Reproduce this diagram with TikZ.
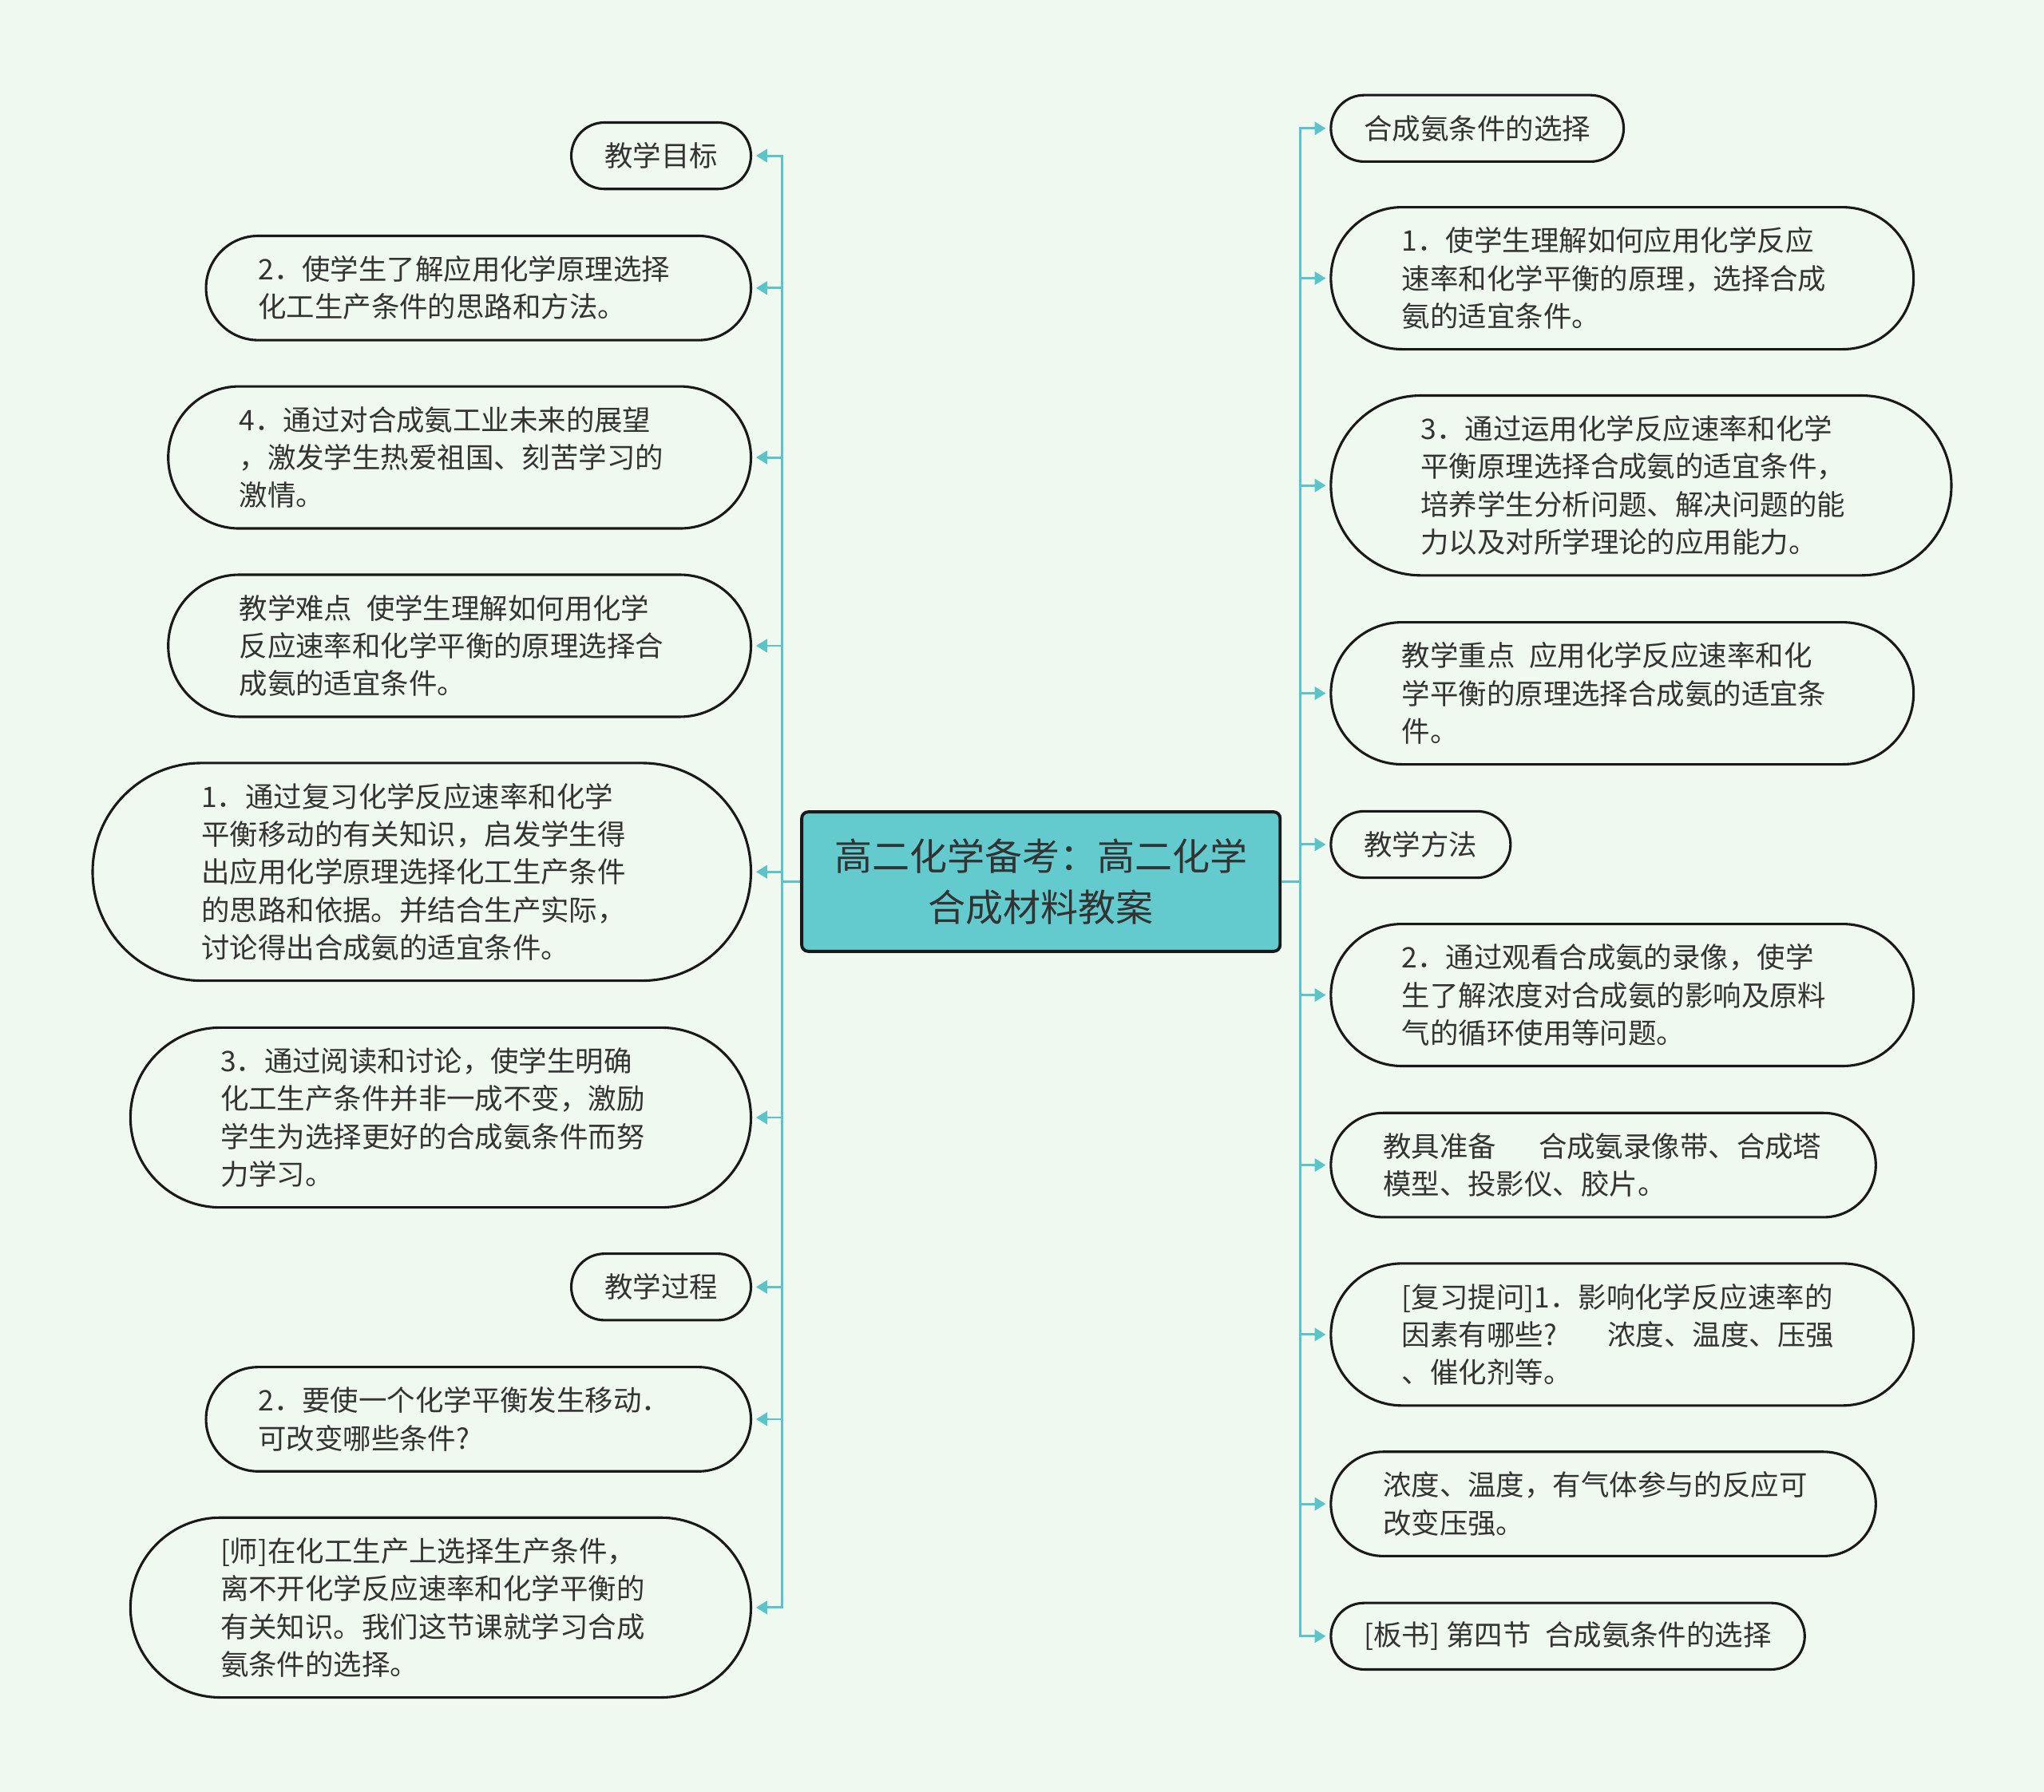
\documentclass[tikz,border=0pt]{standalone}
\usepackage{fontspec}
\setmainfont{Noto Sans CJK SC}
\usetikzlibrary{arrows.meta}

\definecolor{bgc}{HTML}{F0F9EF}
\definecolor{linkc}{HTML}{5BC4C9}
\definecolor{rootc}{HTML}{63CACD}
\definecolor{txtc}{HTML}{333333}

\begin{document}
\begin{tikzpicture}[x=1pt, y=-1pt]
    \tikzset{
        root/.style = {rectangle, rounded corners=5pt, draw=black!90, line width=2.4pt, fill=rootc, text=txtc, minimum width=367pt, minimum height=107pt, align=center, font=\fontsize{28.8}{39}\selectfont},
        leaf/.style = {rectangle, rounded corners=14.5pt*#1+11pt, draw=black!90, line width=1.9pt, fill=bgc, text=txtc, inner xsep=14.5pt*#1+11pt, inner ysep=0pt, minimum height=29pt*#1+22pt, align=left, font=\fontsize{21.7}{29}\selectfont},
        longleaf/.style = {leaf=#1, text width=338pt},
        link/.style = {draw=linkc, line width=1.8pt, -{Triangle[length=8.5pt, width=10pt]}, shorten >=3pt}
    }
    \fill[bgc] (0,0) rectangle (1568,1375);
    \useasboundingbox (0,0) rectangle (1568,1375);

    \node[root] (root) at (798.5,676.5) {高二化学备考：高二化学\\合成材料教案};

    % left branch
    \node[leaf=1, anchor=east] (l1) at (577,119.5) {教学目标};
    \node[longleaf=2, anchor=east] (l2) at (577,221) {2．使学生了解应用化学原理选择\\化工生产条件的思路和方法。};
    \node[longleaf=3, anchor=east] (l3) at (577,351) {4．通过对合成氨工业未来的展望\\，激发学生热爱祖国、刻苦学习的\\激情。};
    \node[longleaf=3, anchor=east] (l4) at (577,495.5) {教学难点\hspace{0.5em}使学生理解如何用化学\\反应速率和化学平衡的原理选择合\\成氨的适宜条件。};
    \node[longleaf=5, anchor=east] (l5) at (577,669) {1．通过复习化学反应速率和化学\\平衡移动的有关知识，启发学生得\\出应用化学原理选择化工生产条件\\的思路和依据。并结合生产实际，\\讨论得出合成氨的适宜条件。};
    \node[longleaf=4, anchor=east] (l6) at (577,857.5) {3．通过阅读和讨论，使学生明确\\化工生产条件并非一成不变，激励\\学生为选择更好的合成氨条件而努\\力学习。};
    \node[leaf=1, anchor=east] (l7) at (577,987.5) {教学过程};
    \node[longleaf=2, anchor=east] (l8) at (577,1089) {2．要使一个化学平衡发生移动．\\可改变哪些条件?};
    \node[longleaf=4, anchor=east] (l9) at (577,1233.5) {[师]在化工生产上选择生产条件，\\离不开化学反应速率和化学平衡的\\有关知识。我们这节课就学习合成\\氨条件的选择。};

    % right branch
    \node[leaf=1, anchor=west] (r1) at (1020,98.5) {合成氨条件的选择};
    \node[longleaf=3, anchor=west] (r2) at (1020,213.5) {1．使学生理解如何应用化学反应\\速率和化学平衡的原理，选择合成\\氨的适宜条件。};
    \node[longleaf=4, anchor=west] (r3) at (1020,372.5) {3．通过运用化学反应速率和化学\\平衡原理选择合成氨的适宜条件，\\培养学生分析问题、解决问题的能\\力以及对所学理论的应用能力。};
    \node[longleaf=3, anchor=west] (r4) at (1020,532) {教学重点\hspace{0.5em}应用化学反应速率和化\\学平衡的原理选择合成氨的适宜条\\件。};
    \node[leaf=1, anchor=west] (r5) at (1020,648) {教学方法};
    \node[longleaf=3, anchor=west] (r6) at (1020,763.5) {2．通过观看合成氨的录像，使学\\生了解浓度对合成氨的影响及原料\\气的循环使用等问题。};
    \node[longleaf=2, anchor=west] (r7) at (1020,894) {教具准备\hspace{1.5em}合成氨录像带、合成塔\\模型、投影仪、胶片。};
    \node[longleaf=3, anchor=west] (r8) at (1020,1024) {[复习提问]1．影响化学反应速率的\\因素有哪些?\hspace{1.8em}浓度、温度、压强\\、催化剂等。};
    \node[longleaf=2, anchor=west] (r9) at (1020,1154) {浓度、温度，有气体参与的反应可\\改变压强。};
    \node[leaf=1, anchor=west] (r10) at (1020,1255.5) {[板书] 第四节\hspace{0.5em}合成氨条件的选择};

    \foreach \i in {1,...,9}
        \draw[link] (root.west) -- ++(-14,0) |- (l\i.east);
    \foreach \i in {1,...,10}
        \draw[link] (root.east) -- ++(14,0) |- (r\i.west);
\end{tikzpicture}
\end{document}
